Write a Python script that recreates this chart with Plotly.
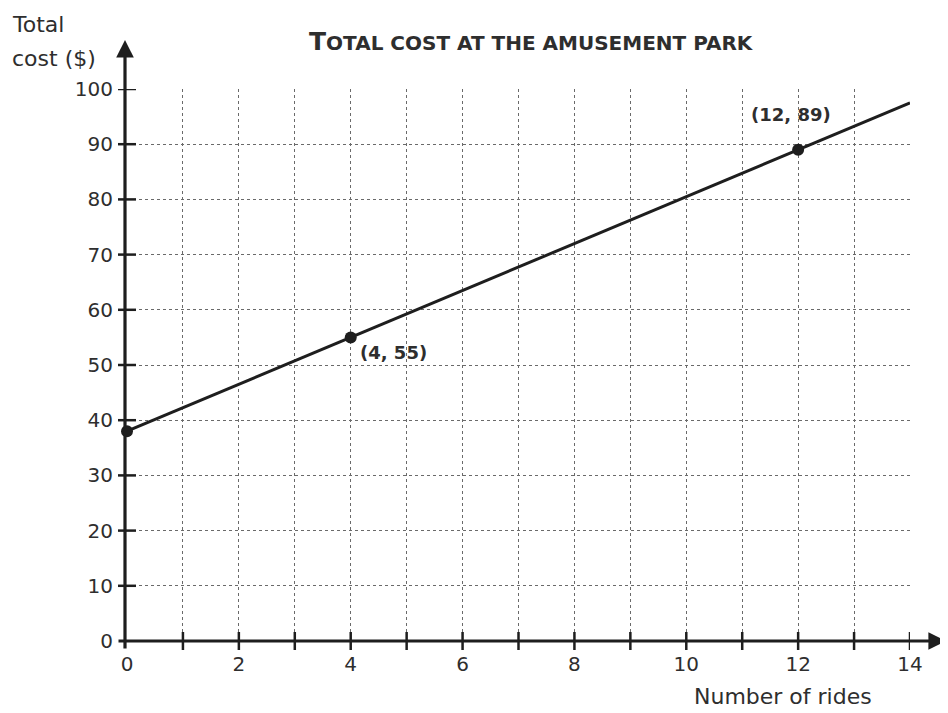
import plotly.graph_objects as go

# ---- data ----
line_rides = [0, 14]
line_cost = [38, 97.5]
point_rides = [0, 4, 12]
point_cost = [38, 55, 89]
point_labels = ["", "(4, 55)", "(12, 89)"]
x_ticks = list(range(0, 15))
x_tick_text = [str(v) if v % 2 == 0 else "" for v in x_ticks]
y_ticks = list(range(0, 101, 10))
y_tick_text = [str(v) for v in y_ticks]

INK = "#1e1e1e"
TXT = "#2e2e2e"
FONT = "DejaVu Sans, Liberation Sans, Arial, sans-serif"

# plot area in page pixels (page has an 8px body margin)
PL, PR, PT, PB = 127, 910, 89, 641
PW, PH = PR - PL, PB - PT


def px(xp):
    return (xp - PL) / PW


def py(yp):
    return (PB - yp) / PH


fig = go.Figure()
fig.add_trace(go.Scatter(x=line_rides, y=line_cost, mode="lines",
                         line=dict(color=INK, width=3), hoverinfo="skip",
                         cliponaxis=False))
fig.add_trace(go.Scatter(x=point_rides, y=point_cost, mode="markers",
                         marker=dict(color=INK, size=12), cliponaxis=False))

# crossing tick marks
shapes = []
for v in x_ticks[1:]:
    shapes.append(dict(type="line", xref="x", yref="paper", x0=v, x1=v,
                       y0=-9 / PH, y1=9 / PH, line=dict(color=INK, width=2.5)))
for v in y_ticks[1:]:
    shapes.append(dict(type="line", xref="paper", yref="y", x0=-9 / PW, x1=9 / PW,
                       y0=v, y1=v, line=dict(color=INK, width=2.5)))

annotations = [
    # y axis with arrow
    dict(x=px(125), y=py(40), xref="paper", yref="paper", text="", showarrow=True,
         ax=0, ay=610, arrowhead=2, arrowsize=1.1, arrowwidth=3.2, arrowcolor=INK,
         standoff=0),
    # x axis with arrow
    dict(x=px(946), y=0, xref="paper", yref="paper", text="", showarrow=True,
         ax=-829, ay=0, arrowhead=2, arrowsize=1.1, arrowwidth=3.2, arrowcolor=INK,
         standoff=0),
    # title (small caps)
    dict(x=px(531), y=py(42), xref="paper", yref="paper", xanchor="center",
         yanchor="middle",
         text="<b>T<span style='font-size:20px'>OTAL COST AT THE AMUSEMENT PARK</span></b>",
         showarrow=False, font=dict(family=FONT, size=25, color=TXT)),
    # y axis title (two lines)
    dict(x=px(10), y=py(25), xref="paper", yref="paper", xanchor="left",
         yanchor="middle", text="Total", showarrow=False,
         font=dict(family=FONT, size=22, color=TXT)),
    dict(x=px(10), y=py(58), xref="paper", yref="paper", xanchor="left",
         yanchor="middle", text="cost ($)", showarrow=False,
         font=dict(family=FONT, size=22, color=TXT)),
    # x axis title
    dict(x=px(783), y=py(696), xref="paper", yref="paper", xanchor="center",
         yanchor="middle", text="Number of rides", showarrow=False,
         font=dict(family=FONT, size=22, color=TXT)),
    # point labels
    dict(x=point_rides[1], y=point_cost[1], xref="x", yref="y",
         text="<b>" + point_labels[1] + "</b>", showarrow=False,
         xshift=43, yshift=-15, font=dict(family=FONT, size=18, color=TXT)),
    dict(x=point_rides[2], y=point_cost[2], xref="x", yref="y",
         text="<b>" + point_labels[2] + "</b>", showarrow=False,
         xshift=-7, yshift=35, font=dict(family=FONT, size=18, color=TXT)),
]

fig.update_layout(
    width=940, height=705,
    margin=dict(l=PL - 8, r=948 - PR, t=PT - 8, b=713 - PB),
    paper_bgcolor="white", plot_bgcolor="white",
    showlegend=False,
    shapes=shapes,
    annotations=annotations,
    font=dict(family=FONT, size=20, color=TXT),
    xaxis=dict(range=[0, 14], tickvals=x_ticks, ticktext=x_tick_text,
               showgrid=True, gridcolor="#6a6a6a", griddash="dot", gridwidth=1,
               zeroline=False, showline=False, ticks="",
               ticklabelstandoff=9,
               tickfont=dict(family=FONT, size=20, color=TXT), fixedrange=True),
    yaxis=dict(range=[0, 100], tickvals=y_ticks, ticktext=y_tick_text,
               showgrid=True, gridcolor="#6a6a6a", griddash="dot", gridwidth=1,
               zeroline=False, showline=False, ticks="",
               ticklabelstandoff=13,
               tickfont=dict(family=FONT, size=20, color=TXT), fixedrange=True),
)

fig.write_html("out.html")
